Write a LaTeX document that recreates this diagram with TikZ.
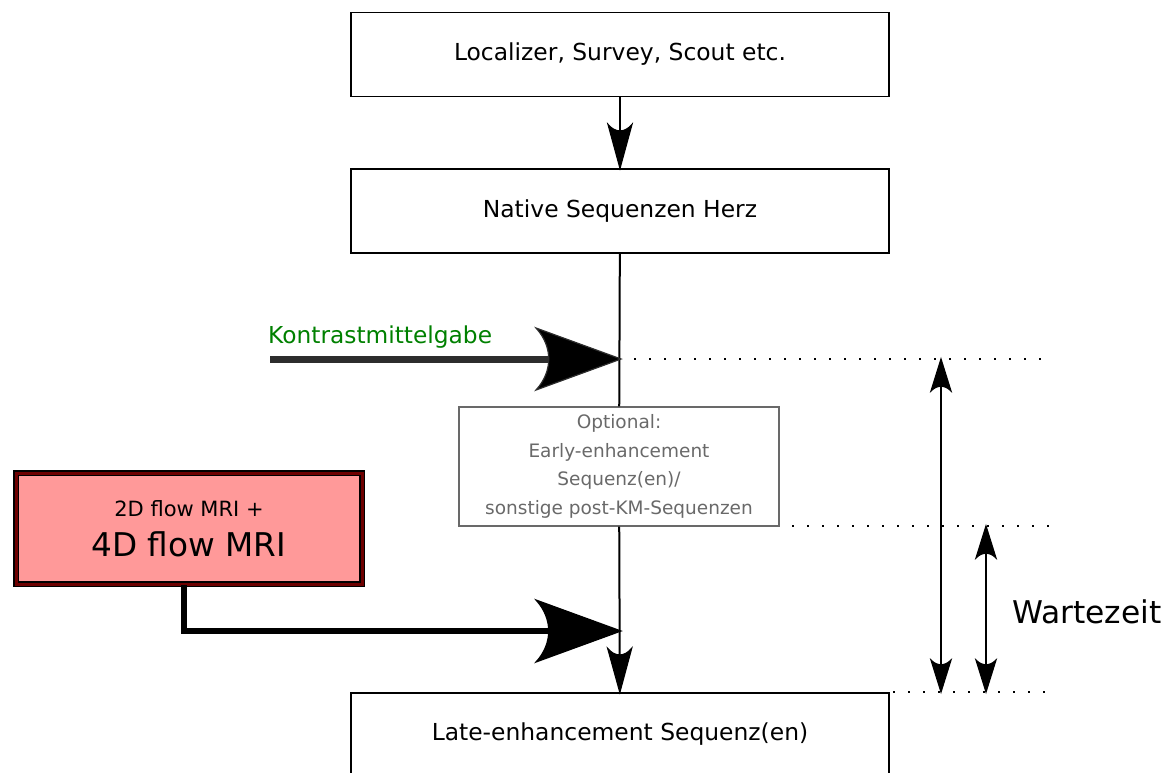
\documentclass[tikz,border=0pt]{standalone}
\usepackage{fontspec}
\setmainfont{DejaVu Sans}
\usepackage{xcolor}
\usepackage{tikz}
\usetikzlibrary{arrows.meta,positioning,calc}
\definecolor{kmgreen}{RGB}{0,128,0}
\definecolor{kmline}{RGB}{45,45,45}
\definecolor{flowfill}{RGB}{255,153,153}
\definecolor{flowborder}{RGB}{110,0,0}
\definecolor{optgray}{RGB}{105,105,105}

% arrow head with a curved back
\pgfdeclarearrow{
  name=Curved,
  parameters={\the\pgfarrowlength,\the\pgfarrowwidth},
  setup code={
    \pgfarrowssettipend{0pt}
    \pgfarrowssetbackend{-\pgfarrowlength}
    \pgfarrowssetlineend{-0.7\pgfarrowlength}
    \pgfarrowsupperhullpoint{-\pgfarrowlength}{0.5\pgfarrowwidth}
    \pgfarrowshullpoint{0pt}{0pt}
  },
  drawing code={
    \pgfsetlinewidth{1.2pt}
    \pgfsetmiterjoin
    \pgfsetfillcolor{black}
    \pgfpathmoveto{\pgfqpoint{0pt}{0pt}}
    \pgfpathlineto{\pgfqpoint{-\pgfarrowlength}{0.5\pgfarrowwidth}}
    \pgfpathcurveto{\pgfqpoint{-0.8\pgfarrowlength}{0.2\pgfarrowwidth}}{\pgfqpoint{-0.8\pgfarrowlength}{-0.2\pgfarrowwidth}}{\pgfqpoint{-\pgfarrowlength}{-0.5\pgfarrowwidth}}
    \pgfpathclose
    \pgfusepathqfillstroke
  },
  defaults={length=10pt, width=8pt}
}

\begin{document}
\begin{tikzpicture}[
    x=1pt, y=-1pt,
    box/.style={rectangle, draw, line width=1.3pt, minimum width=538pt, minimum height=84pt, align=center, font=\fontsize{23.4}{28}\selectfont},
    optbox/.style={rectangle, draw=optgray, line width=1.3pt, minimum width=320pt, minimum height=119pt, align=center, text=optgray, font=\fontsize{18.5}{28.5}\selectfont},
    flowbox/.style={rectangle, draw=black, double=flowborder, double distance=3pt, line width=1.5pt, fill=flowfill, minimum width=346pt, minimum height=111pt, align=center},
    arrow/.style={-{Curved[length=44pt, width=24pt]}, line width=2pt},
    timearrow/.style={{Curved[length=32pt, width=20pt]}-{Curved[length=32pt, width=20pt]}, line width=2pt},
    bigarrow/.style={-{Curved[length=85pt, width=62pt]}, line width=7pt},
    guide/.style={line width=1.5pt, dash pattern=on 1.5pt off 13.5pt}
]
\useasboundingbox (0,0) rectangle (1168,772);

% sequence boxes
\node[box] (scout) at (620,54.5) {Localizer, Survey, Scout etc.};
\node[box] (native) at (620,211) {Native Sequenzen Herz};
\node[optbox] (optional) at (619,466.5) {Optional:\\Early-enhancement\\Sequenz(en)/\\sonstige post-KM-Sequenzen};
\node[box, minimum height=82pt] (late) at (620,734) {Late-enhancement Sequenz(en)};

% flow box
\node[flowbox] (flow) at (189,528.5) {\fontsize{21}{26}\selectfont 2D flow MRI +\\[14pt] \fontsize{32.7}{40}\selectfont 4D flow MRI};

% contrast agent
\node[font=\fontsize{23.3}{28}\selectfont, text=kmgreen, anchor=west, inner sep=0pt] (kmlabel) at (268,337) {Kontrastmittelgabe};
\coordinate (kmstart) at (270,359);
\coordinate (kmin) at (621,359);
\coordinate (flowin) at (621,631);

\draw[arrow] (scout) -- (native);
\draw[line width=2pt] (native) -- (optional);
\draw[arrow] (optional) -- (late);
\draw[bigarrow, draw=kmline] (kmstart) -- (kmin);
\draw[bigarrow, line width=6pt] ([xshift=-5pt]flow.south) |- (flowin);

% time markers
\coordinate (t0a) at (634,359);
\coordinate (t0b) at (1052,359);
\coordinate (t1a) at (792,526);
\coordinate (t1b) at (1050,526);
\coordinate (t2a) at (893,692);
\coordinate (t2b) at (1046,692);
\draw[guide] (t0a) -- (t0b);
\draw[guide] (t1a) -- (t1b);
\draw[guide] (t2a) -- (t2b);

\coordinate (w0top) at (941,359);
\coordinate (w0bot) at (941,692);
\coordinate (w1top) at (986,526);
\coordinate (w1bot) at (986,692);
\draw[timearrow] (w0top) -- (w0bot);
\draw[timearrow] (w1top) -- (w1bot);

\node[font=\fontsize{31.3}{38}\selectfont] (wait) at (1087,612) {Wartezeit};

\end{tikzpicture}
\end{document}
